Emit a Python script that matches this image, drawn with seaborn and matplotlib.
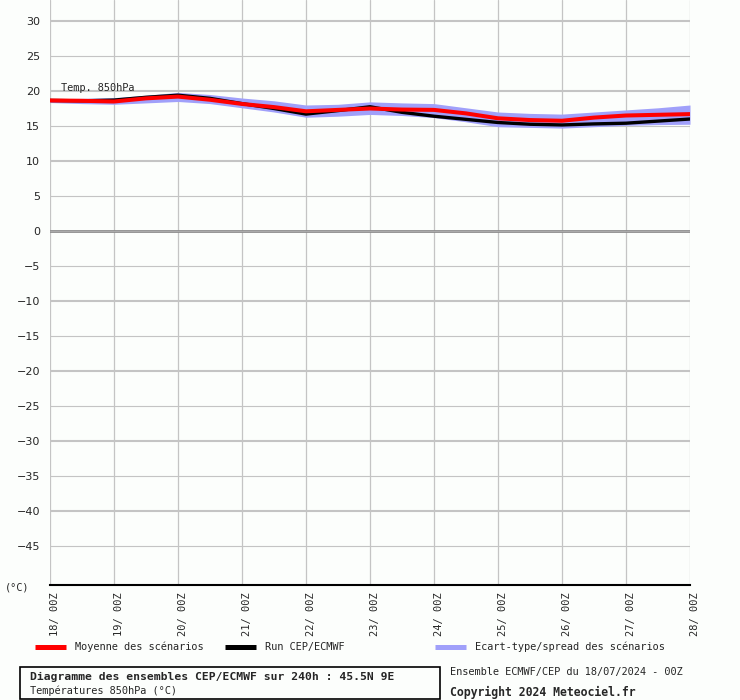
import numpy as np
import pandas as pd
import matplotlib
matplotlib.use("Agg")
import matplotlib.pyplot as plt
from matplotlib.lines import Line2D
from matplotlib.patches import Rectangle
import seaborn as sns

# forecast steps (hours from 18/07 00Z), every 12h
hours = list(range(0, 241, 12))
day_labels = ["18/ 00Z", "19/ 00Z", "20/ 00Z", "21/ 00Z", "22/ 00Z", "23/ 00Z",
              "24/ 00Z", "25/ 00Z", "26/ 00Z", "27/ 00Z", "28/ 00Z"]

# ensemble mean (red)
mean_t850 = [18.65, 18.6, 18.5, 18.95, 19.2, 18.75, 18.15, 17.7, 17.1, 17.3, 17.5,
             17.35, 17.3, 16.8, 16.1, 15.85, 15.75, 16.2, 16.5, 16.6, 16.7]
# deterministic run (black)
run_t850 = [18.65, 18.6, 18.7, 19.1, 19.4, 18.95, 18.2, 17.5, 16.7, 17.2, 17.75,
            16.95, 16.4, 15.95, 15.5, 15.25, 15.15, 15.3, 15.4, 15.7, 16.0]
# spread band
spread_hi = [18.9, 18.95, 19.05, 19.4, 19.8, 19.5, 19.0, 18.6, 18.0, 18.1, 18.45,
             18.3, 18.2, 17.6, 17.0, 16.8, 16.7, 17.0, 17.3, 17.6, 18.0]
spread_lo = [18.35, 18.2, 18.1, 18.3, 18.5, 18.2, 17.6, 17.0, 16.25, 16.4, 16.65,
             16.5, 16.2, 15.6, 14.9, 14.8, 14.7, 14.9, 15.1, 15.2, 15.25]

y_ticks = list(range(30, -50, -5))

df = pd.DataFrame({"h": hours, "mean": mean_t850, "run": run_t850,
                   "hi": spread_hi, "lo": spread_lo})

sns.set_style("white")
plt.rcParams["font.family"] = ["DejaVu Sans"]
mono = ["DejaVu Sans Mono"]
bg = "#fcfefc"
spread_col = "#a0a0fa"
grid_col = "#c4c4c4"

fig = plt.figure(figsize=(7.4, 7.0), dpi=100, facecolor=bg)
ax = fig.add_axes([50 / 740, 1 - 585 / 700, 640 / 740, 585 / 700])
ax.set_facecolor(bg)
ax.set_xlim(0, 240)
ax.set_ylim(-50.57, 33.0)

# grid
for d in range(0, 241, 24):
    ax.axvline(d, color=grid_col, lw=0.9, zorder=1)
for v in y_ticks:
    if v == 0:
        ax.axhline(v, color="#8c8c8c", lw=2.0, zorder=1)
        ax.axhline(v, color="#b8b8b8", lw=0.5, zorder=1)
    elif v % 10 == 0:
        ax.axhline(v, color=grid_col, lw=1.5, zorder=1)
    else:
        ax.axhline(v, color=grid_col, lw=0.8, zorder=1)

ax.fill_between(df["h"], df["lo"], df["hi"], color=spread_col, lw=0, zorder=2)
sns.lineplot(data=df, x="h", y="run", color="black", lw=2.4, ax=ax, zorder=3)
sns.lineplot(data=df, x="h", y="mean", color="#ff0000", lw=2.9, ax=ax, zorder=4)

ax.set_xlabel("")
ax.set_ylabel("")
ax.set_xticks(range(0, 241, 24))
ax.set_xticklabels(day_labels, rotation=90, fontsize=7.5, family=mono, va="top", ha="left")
ax.set_yticks(y_ticks)
ax.set_yticklabels([str(v).replace("-", "\u2212") for v in y_ticks], fontsize=8)
ax.tick_params(axis="both", length=0, pad=7)
ax.tick_params(axis="x", pad=5)
for s in ["left", "top", "right"]:
    ax.spines[s].set_visible(False)
ax.spines["bottom"].set_color("black")
ax.spines["bottom"].set_linewidth(1.5)

ax.text(4, 19.7, "Temp. 850hPa", family=mono, fontsize=7.4, va="bottom", zorder=5)
fig.text(5 / 740, 1 - 587 / 700, "(°C)", family=mono, fontsize=7.4, va="center")

# legend
leg_y = 1 - 647 / 700
items = [(35, "#ff0000", "Moyenne des scénarios"),
         (225, "black", "Run CEP/ECMWF"),
         (435, spread_col, "Ecart-type/spread des scénarios")]
for x0, c, lab in items:
    fig.add_artist(Line2D([x0 / 740, (x0 + 31) / 740], [leg_y, leg_y], color=c, lw=3.6,
                          solid_capstyle="butt"))
    fig.text((x0 + 40) / 740, leg_y, lab, family=mono, fontsize=7.4, va="center")

# footer
fig.add_artist(Rectangle((20 / 740, 1 - 699 / 700), 420 / 740, 32 / 700, fill=False,
                         edgecolor="black", lw=1.2))
fig.text(30 / 740, 1 - 677 / 700, "Diagramme des ensembles CEP/ECMWF sur 240h : 45.5N 9E",
         family=mono, fontsize=8.2, fontweight="bold", va="center")
fig.text(30 / 740, 1 - 691 / 700, "Températures 850hPa (°C)", family=mono, fontsize=7.4,
         va="center")
fig.text(450 / 740, 1 - 672 / 700, "Ensemble ECMWF/CEP du 18/07/2024 - 00Z", family=mono,
         fontsize=7.4, va="center")
fig.text(450 / 740, 1 - 692 / 700, "Copyright 2024 Meteociel.fr", family=mono,
         fontsize=8.3, fontweight="bold", va="center")

fig.savefig("out.png", dpi=100, facecolor=bg)
